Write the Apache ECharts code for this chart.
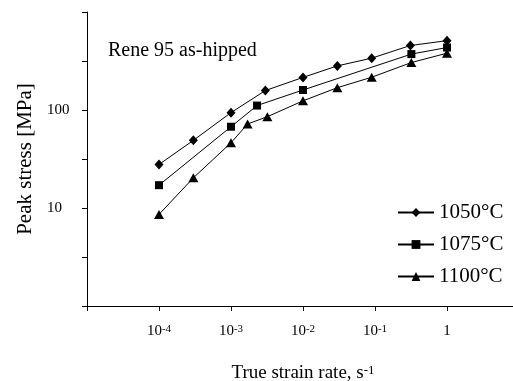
<!DOCTYPE html>
<html>
<head>
<meta charset="utf-8">
<script src="https://cdn.jsdelivr.net/npm/echarts@6/dist/echarts.min.js"></script>
<style>
  html, body { margin: 0; padding: 0; background: #fff; }
  #chart { width: 513px; height: 381px; }
</style>
</head>
<body>
<div id="chart"></div>
<script>
// peak stress (MPa) vs true strain rate (1/s)
const rate1050 = [1e-4, 3e-4, 1e-3, 3e-3, 1e-2, 3e-2, 0.09, 0.31, 1];
const stress1050 = [27.8, 49, 94, 158, 215, 282, 338, 455, 510];

const rate1075 = [1e-4, 1e-3, 0.0023, 1e-2, 0.32, 1];
const stress1075 = [17.1, 67.5, 111, 160, 372, 434];

const rate1100 = [1e-4, 3e-4, 1e-3, 0.0017, 0.0032, 1e-2, 3e-2, 0.09, 0.32, 1];
const stress1100 = [8.6, 20.3, 46.3, 72, 85.4, 124, 169, 216, 305, 380];

const yLabels = [10, 100];
const xLabelExps = [-4, -3, -2, -1, 0];

const FONT = 'Liberation Serif';

function pairs(xs, ys) {
    return xs.map((x, i) => [x, ys[i]]);
}

function lineSeries(name, xs, ys, symbol, size) {
    return {
        name: name,
        type: 'line',
        data: pairs(xs, ys),
        symbol: symbol,
        symbolSize: size,
        showAllSymbol: true,
        lineStyle: { color: '#000', width: 1 },
        itemStyle: { color: '#000', borderWidth: 0 },
        emphasis: { disabled: true },
        animation: false,
    };
}

const chart = echarts.init(document.getElementById('chart'));

chart.setOption({
    backgroundColor: '#fff',
    animation: false,
    title: {
        text: 'Rene 95 as-hipped',
        left: 108,
        top: 41,
        padding: 0,
        textStyle: { fontFamily: FONT, fontSize: 20, fontWeight: 'normal', color: '#000' },
    },
    legend: {
        orient: 'vertical',
        left: 397,
        top: 202,
        itemWidth: 36,
        itemHeight: 11,
        itemGap: 11,
        padding: 0,
        textStyle: { fontFamily: FONT, fontSize: 21, color: '#000', lineHeight: 21 },
        data: ['1050°C', '1075°C', '1100°C'],
    },
    // the x axis runs on past the right edge of the picture, up to 10
    grid: {
        left: 87, width: 432, top: 12, bottom: 75,
        containLabel: false,
        outerBoundsMode: 'none',
    },
    xAxis: {
        type: 'log',
        logBase: 10,
        min: 1e-5,
        max: 10,
        interval: 1,
        name: 'True strain rate, s{sup|-1}',
        nameLocation: 'middle',
        nameGap: 58,
        nameTextStyle: {
            fontFamily: FONT, fontSize: 19, color: '#000',
            rich: { sup: { fontFamily: FONT, fontSize: 13, color: '#000', verticalAlign: 'top' } },
        },
        axisLine: { onZero: false, lineStyle: { color: '#000', width: 1 } },
        axisTick: { show: true, inside: false, length: 5, lineStyle: { color: '#000' } },
        splitLine: { show: false },
        axisLabel: {
            margin: 18,
            showMinLabel: true,
            showMaxLabel: true,
            formatter: function (v) {
                const e = Math.round(Math.log10(v));
                if (xLabelExps.indexOf(e) < 0) return '';
                if (e === 0) return '{b|1}';
                return '{b|10}{sup|' + e + '}';
            },
            rich: {
                b: { fontFamily: FONT, fontSize: 15, color: '#000', verticalAlign: 'bottom' },
                sup: { fontFamily: FONT, fontSize: 11, color: '#000', verticalAlign: 'top' },
            },
        },
    },
    yAxis: {
        type: 'log',
        logBase: 10,
        min: 1,
        max: 1000,
        interval: 0.5,
        name: 'Peak stress [MPa]',
        nameLocation: 'middle',
        nameGap: 51,
        nameTextStyle: { fontFamily: FONT, fontSize: 21, color: '#000' },
        axisLine: { show: true, onZero: false, lineStyle: { color: '#000', width: 1 } },
        axisTick: { show: true, inside: false, length: 5, lineStyle: { color: '#000' } },
        splitLine: { show: false },
        axisLabel: {
            margin: 40,
            align: 'left',
            fontFamily: FONT,
            fontSize: 15,
            color: '#000',
            formatter: function (v) {
                for (const l of yLabels) {
                    if (Math.abs(v - l) < 1e-6 * l) return String(l);
                }
                return '';
            },
        },
    },
    series: [
        lineSeries('1050°C', rate1050, stress1050, 'diamond', [9, 10]),
        lineSeries('1075°C', rate1075, stress1075, 'rect', 8),
        lineSeries('1100°C', rate1100, stress1100, 'triangle', [10, 9]),
    ],
});
</script>
</body>
</html>
